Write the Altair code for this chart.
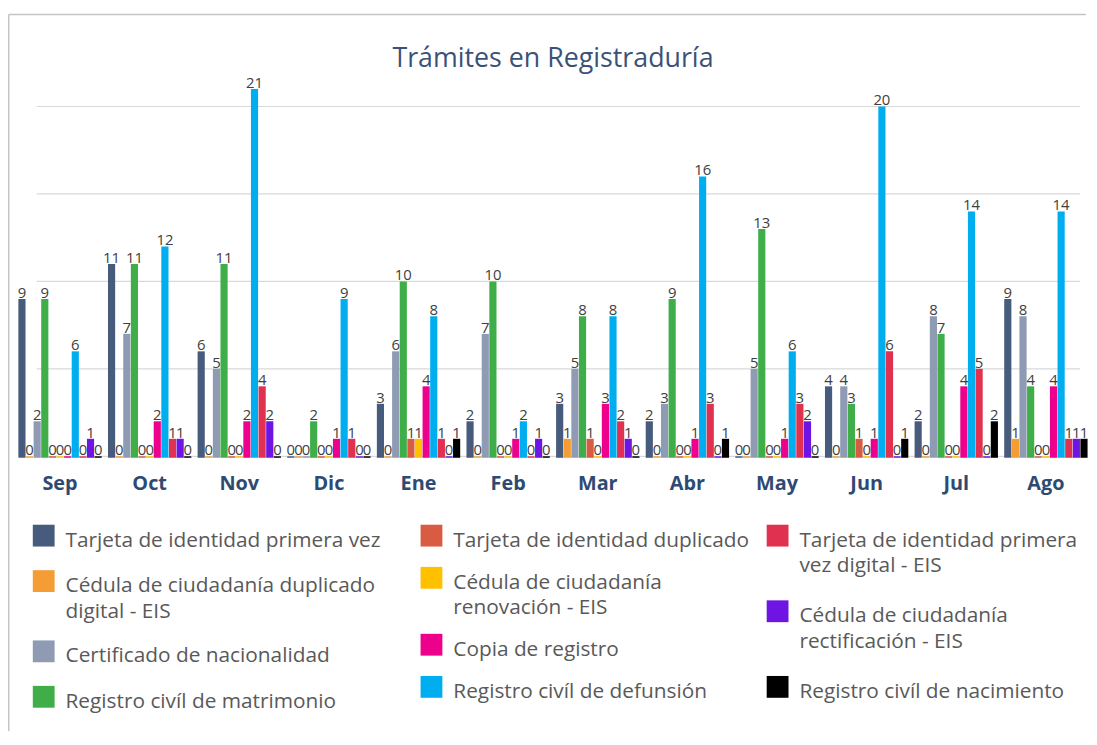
import altair as alt
import pandas as pd

months = ["Sep", "Oct", "Nov", "Dic", "Ene", "Feb", "Mar", "Abr", "May", "Jun", "Jul", "Ago"]

series_names = [
    "Tarjeta de identidad primera vez",
    "Cédula de ciudadanía duplicado digital - EIS",
    "Certificado de nacionalidad",
    "Registro civíl de matrimonio",
    "Tarjeta de identidad duplicado",
    "Cédula de ciudadanía renovación - EIS",
    "Copia de registro",
    "Registro civíl de defunsión",
    "Tarjeta de identidad primera vez digital - EIS",
    "Cédula de ciudadanía rectificación - EIS",
    "Registro civíl de nacimiento",
]

legend_lines = [
    ["Tarjeta de identidad primera vez"],
    ["Cédula de ciudadanía duplicado", "digital - EIS"],
    ["Certificado de nacionalidad"],
    ["Registro civíl de matrimonio"],
    ["Tarjeta de identidad duplicado"],
    ["Cédula de ciudadanía", "renovación - EIS"],
    ["Copia de registro"],
    ["Registro civíl de defunsión"],
    ["Tarjeta de identidad primera", "vez digital - EIS"],
    ["Cédula de ciudadanía", "rectificación - EIS"],
    ["Registro civíl de nacimiento"],
]
legend_columns = [0, 0, 0, 0, 1, 1, 1, 1, 2, 2, 2]

colors = ["#475b7d", "#f59d35", "#8e9bb2", "#3fae49", "#d95b41", "#ffc000",
          "#ec008c", "#00aeef", "#e03150", "#6e15e3", "#000000"]

tarjeta_primera_vez = [9, 11, 6, 0, 3, 2, 3, 2, 0, 4, 2, 9]
cedula_duplicado_digital = [0, 0, 0, 0, 0, 0, 1, 0, 0, 0, 0, 1]
certificado_nacionalidad = [2, 7, 5, 0, 6, 7, 5, 3, 5, 4, 8, 8]
registro_matrimonio = [9, 11, 11, 2, 10, 10, 8, 9, 13, 3, 7, 4]
tarjeta_duplicado = [0, 0, 0, 0, 1, 0, 1, 0, 0, 1, 0, 0]
cedula_renovacion = [0, 0, 0, 0, 1, 0, 0, 0, 0, 0, 0, 0]
copia_registro = [0, 2, 2, 1, 4, 1, 3, 1, 1, 1, 4, 4]
registro_defuncion = [6, 12, 21, 9, 8, 2, 8, 16, 6, 20, 14, 14]
tarjeta_primera_digital = [0, 1, 4, 1, 1, 0, 2, 3, 3, 6, 5, 1]
cedula_rectificacion = [1, 1, 2, 0, 0, 1, 1, 0, 2, 0, 0, 1]
registro_nacimiento = [0, 0, 0, 0, 1, 0, 0, 1, 0, 1, 2, 1]

all_series = [tarjeta_primera_vez, cedula_duplicado_digital, certificado_nacionalidad,
              registro_matrimonio, tarjeta_duplicado, cedula_renovacion, copia_registro,
              registro_defuncion, tarjeta_primera_digital, cedula_rectificacion,
              registro_nacimiento]

FONT = "Open Sans"

rows = []
for name, vals in zip(series_names, all_series):
    for m, v in zip(months, vals):
        rows.append({"mes": m, "serie": name, "valor": v})
df = pd.DataFrame(rows)

W = 1079
H = 388
ymax = 22

yscale = alt.Scale(domain=[0, ymax], nice=False, zero=True)

base = alt.Chart(df).encode(
    x=alt.X("mes:N", sort=months,
            scale=alt.Scale(paddingInner=0.07, paddingOuter=0.005),
            axis=alt.Axis(title=None, labelAngle=0, ticks=False, domain=False,
                          labelPadding=17, labelFont=FONT, labelFontSize=20,
                          labelFontWeight="bold", labelColor="#2e4a72")),
    xOffset=alt.XOffset("serie:N", sort=series_names, scale=alt.Scale(paddingInner=0.06)),
)

bars = base.mark_bar(y2Offset=1.5).encode(
    y=alt.Y("valor:Q", scale=yscale, axis=None),
    y2=alt.datum(0),
    color=alt.Color("serie:N", sort=series_names,
                    scale=alt.Scale(domain=series_names, range=colors), legend=None),
)

labels = base.mark_text(baseline="alphabetic", dy=-1, fontSize=15, font=FONT,
                        color="#404040").encode(
    y=alt.Y("valor:Q", scale=yscale, axis=None),
    text="valor:Q",
)

grid_values = [0, 5, 10, 15, 20]
grid = alt.Chart(pd.DataFrame({"v": grid_values})).mark_rule(
    color="#d9d9d9", strokeWidth=1.2).encode(
    y=alt.Y("v:Q", scale=yscale, axis=None),
    x=alt.value(19), x2=alt.value(1071),
)

bars_chart = alt.layer(grid, bars, labels).properties(
    width=W, height=H,
    title=alt.TitleParams(text="Trámites en Registraduría", font=FONT, fontSize=27,
                          fontWeight="normal", color="#3b5278", anchor="middle",
                          baseline="alphabetic", offset=-22),
)

# legend layout: items stacked per column, spread down to each column's end line
LINE = 25
col_end = [6.5, 6.1, 6.1]
leg_rows = []
for c in range(3):
    items = [i for i, cc in enumerate(legend_columns) if cc == c]
    total_before_last = sum(len(legend_lines[i]) for i in items[:-1])
    gap = (col_end[c] - total_before_last) / (len(items) - 1)
    pos = 0.0
    for i in items:
        leg_rows.append({"serie": series_names[i], "col": c, "pos": pos,
                         "text": "\n".join(legend_lines[i])})
        pos += len(legend_lines[i]) + gap
leg_df = pd.DataFrame(leg_rows)

LH = 175
lx = alt.X("col:Q", scale=alt.Scale(domain=[0, 1, 2], range=[26, 417, 766]), axis=None)
ly = alt.Y("pos:Q", scale=alt.Scale(domain=[0, LH / LINE], range=[0, LH]), axis=None)

leg_squares = alt.Chart(leg_df).mark_square(
    size=484, opacity=1, yOffset=-11).encode(
    x=lx, y=ly,
    color=alt.Color("serie:N", sort=series_names,
                    scale=alt.Scale(domain=series_names, range=colors), legend=None),
)
leg_text = alt.Chart(leg_df).mark_text(
    align="left", baseline="alphabetic", dx=22, fontSize=21, font=FONT,
    lineBreak="\n", lineHeight=26, color="#595959").encode(x=lx, y=ly, text="text:N")

one = pd.DataFrame({"a": [0]})
border_left = alt.Chart(one).mark_rule(color="#c4c4c4", strokeWidth=1.5).encode(
    x=alt.value(-9.25), y=alt.value(-536.5), y2=alt.value(186))
border_top = alt.Chart(one).mark_rule(color="#c4c4c4", strokeWidth=1.5).encode(
    x=alt.value(-9.25), x2=alt.value(1077), y=alt.value(-536.5))

legend_chart = alt.layer(border_left, border_top, leg_squares, leg_text).properties(
    width=W, height=LH)

chart = alt.vconcat(bars_chart, legend_chart, spacing=91, bounds="flush").properties(
    padding={"left": 0, "top": 2, "right": 0, "bottom": 0},
).configure(font=FONT).configure_view(stroke=None)

chart.save("out.html", embed_options={"renderer": "svg", "actions": False})
